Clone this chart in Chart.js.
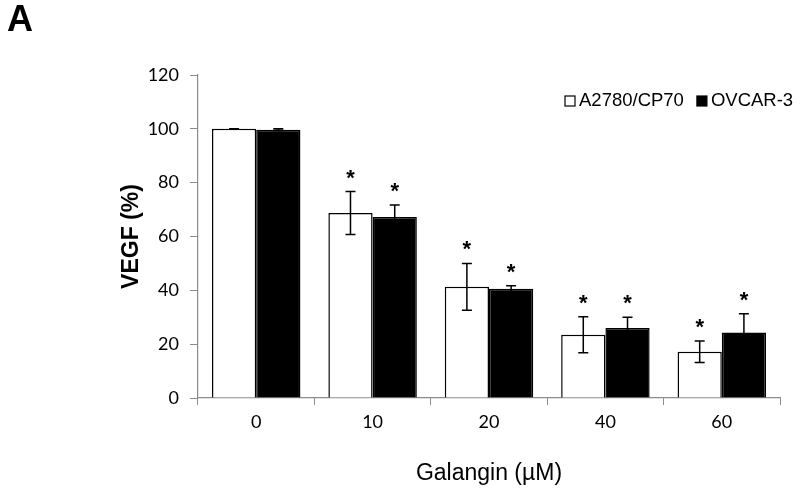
<!DOCTYPE html>
<html>
<head>
<meta charset="utf-8">
<script src="https://cdn.jsdelivr.net/npm/chart.js@4"></script>
<style>
  html, body { margin: 0; padding: 0; background: #fff; }
  #wrap { width: 800px; height: 490px; }
</style>
</head>
<body>
<div id="wrap"><canvas id="vegfChart" width="800" height="490"></canvas></div>
<script>
const doses = ['0', '10', '20', '40', '60'];
const cp70 = [100, 68.7, 41.3, 23.5, 17.2];
const cp70Err = [0, 8, 8.7, 6.7, 4];
const ovcar = [99.7, 67.2, 40.6, 26, 24.3];
const ovcarErr = [0.3, 4.5, 1.1, 4, 7];
const starred = [false, true, true, true, true];
const yTicks = [0, 20, 40, 60, 80, 100, 120];

const axisGray = '#8c8c8c';
const arial = '"Liberation Sans", Arial, sans-serif';

// error bars, significance stars, legend and the panel letter
const extras = {
    id: 'extras',
    afterDatasetsDraw(chart) {
        const ctx = chart.ctx;
        const y = chart.scales.y;
        const errs = [cp70Err, ovcarErr];
        ctx.save();
        chart.data.datasets.forEach((ds, di) => {
            const meta = chart.getDatasetMeta(di);
            meta.data.forEach((bar, i) => {
                const v = ds.data[i];
                const e = errs[di][i];
                const top = y.getPixelForValue(v + e);
                const bot = y.getPixelForValue(v - e);
                ctx.strokeStyle = '#000';
                ctx.lineWidth = 1.5;
                ctx.beginPath();
                ctx.moveTo(bar.x, top); ctx.lineTo(bar.x, bot);
                ctx.moveTo(bar.x - 5, top); ctx.lineTo(bar.x + 5, top);
                ctx.moveTo(bar.x - 5, bot); ctx.lineTo(bar.x + 5, bot);
                ctx.stroke();
                if (starred[i]) {
                    ctx.fillStyle = '#000';
                    ctx.font = 'bold 22px ' + arial;
                    ctx.textAlign = 'center';
                    ctx.textBaseline = 'alphabetic';
                    ctx.fillText('*', bar.x, top - 7);
                }
            });
        });

        // legend, top right inside the plot
        const area = chart.chartArea;
        let lx = area.right - 215;
        const ly = area.top + 26;
        ctx.font = '18.5px ' + arial;
        ctx.textBaseline = 'middle';
        ctx.textAlign = 'left';
        chart.data.datasets.forEach(ds => {
            ctx.fillStyle = ds.backgroundColor;
            ctx.fillRect(lx, ly - 5, 10, 10);
            ctx.strokeStyle = '#000';
            ctx.lineWidth = 1.2;
            ctx.strokeRect(lx, ly - 5, 10, 10);
            ctx.fillStyle = '#000';
            ctx.fillText(ds.label, lx + 14, ly);
            lx += 14 + ctx.measureText(ds.label).width + 13;
        });

        ctx.font = 'bold 36px ' + arial;
        ctx.textBaseline = 'top';
        ctx.fillText('A', 7, 3);
        ctx.restore();
    }
};

new Chart(document.getElementById('vegfChart'), {
    type: 'bar',
    data: {
        labels: doses,
        datasets: [{
            label: 'A2780/CP70',
            data: cp70,
            backgroundColor: '#fff',
            borderColor: '#000',
            borderWidth: 1.5,
            borderSkipped: 'bottom'
        }, {
            label: 'OVCAR-3',
            data: ovcar,
            backgroundColor: '#000',
            borderColor: '#000',
            borderWidth: 1.5,
            borderSkipped: 'bottom'
        }]
    },
    options: {
        responsive: false,
        animation: false,
        devicePixelRatio: 1,
        layout: { padding: { top: 75, right: 20, left: 0, bottom: 0 } },
        datasets: { bar: { categoryPercentage: 0.76, barPercentage: 1 } },
        plugins: {
            tooltip: { enabled: false },
            legend: { display: false }
        },
        scales: {
            x: {
                grid: { drawOnChartArea: false, color: axisGray, tickLength: 7, offset: true },
                border: { color: axisGray, width: 1.2 },
                ticks: {
                    color: '#000',
                    padding: 6,
                    font: { family: 'Lato, "Open Sans", sans-serif', size: 18 }
                },
                title: {
                    display: true,
                    text: 'Galangin (µM)',
                    color: '#000',
                    font: { family: arial, size: 23 },
                    padding: { top: 0, bottom: 3 }
                },
                afterFit(s) { s.height = 92; }
            },
            y: {
                min: 0,
                max: 120,
                afterBuildTicks(s) { s.ticks = yTicks.map(v => ({ value: v })); },
                grid: { drawOnChartArea: false, color: axisGray, tickLength: 8 },
                border: { color: axisGray, width: 1.2 },
                ticks: {
                    color: '#000',
                    padding: 11,
                    font: { family: 'Lato, "Open Sans", sans-serif', size: 18 }
                },
                title: {
                    display: true,
                    text: 'VEGF (%)',
                    color: '#000',
                    font: { family: arial, size: 23, weight: 'bold' },
                    padding: { top: 118, bottom: 0 }
                },
                afterFit(s) { s.width = 198; }
            }
        }
    },
    plugins: [extras]
});
</script>
</body>
</html>
